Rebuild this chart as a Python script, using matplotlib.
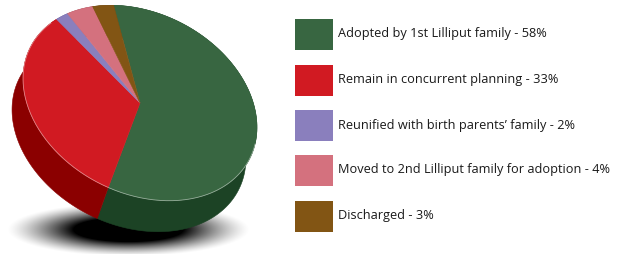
import numpy as np
import matplotlib
matplotlib.use("Agg")
import matplotlib.pyplot as plt
from matplotlib.patches import Polygon, Rectangle

labels = [
    "Adopted by 1st Lilliput family - 58%",
    "Remain in concurrent planning - 33%",
    "Reunified with birth parents\u2019 family - 2%",
    "Moved to 2nd Lilliput family for adoption - 4%",
    "Discharged - 3%",
]
values = [58, 33, 2, 4, 3]
top_colors = ["#386641", "#d11a22", "#8a7fbd", "#d4717e", "#825514"]
side_colors = ["#1c4325", "#8b0000", "#5a5090", "#9a4a55", "#55370c"]

# pie geometry in pixel coords (y down)
CX, CY = 140, 103
A, B = 123, 90
TILT = np.deg2rad(27)
DEPTH = (-11, 31)
START = 236.5  # degrees, green wedge starts at top


def ell(t):
    x = CX + A * np.cos(TILT) * np.cos(t) - B * np.sin(TILT) * np.sin(t)
    y = CY + A * np.sin(TILT) * np.cos(t) + B * np.cos(TILT) * np.sin(t)
    return x, y


fig = plt.figure(figsize=(6.2, 2.54), dpi=100)
ax = fig.add_axes([0, 0, 1, 1])
ax.set_xlim(0, 620)
ax.set_ylim(254, 0)
ax.axis("off")

# soft shadow under the pie
gx, gy = np.meshgrid(np.arange(0, 300), np.arange(190, 254))
r = np.sqrt(((gx - 128) / 122.0) ** 2 + ((gy - 229) / 27.0) ** 2)
alpha = np.clip((1 - r) / 0.55, 0, 1) ** 1.4
img = np.zeros(gx.shape + (4,))
img[..., 3] = alpha
ax.imshow(img, extent=(0, 300, 254, 190), origin="upper", zorder=1, aspect="auto")

total = sum(values)
bounds = [START]
for v in values:
    bounds.append(bounds[-1] + 360.0 * v / total)

# side band
for i in range(len(values)):
    t = np.deg2rad(np.linspace(bounds[i], bounds[i + 1], 120))
    x, y = ell(t)
    pts = np.column_stack([np.r_[x, x[::-1] + DEPTH[0]], np.r_[y, y[::-1] + DEPTH[1]]])
    ax.add_patch(Polygon(pts, closed=True, fc=side_colors[i], ec=side_colors[i], lw=0.4, zorder=2))

# top face
for i in range(len(values)):
    t = np.deg2rad(np.linspace(bounds[i], bounds[i + 1], 120))
    x, y = ell(t)
    pts = np.column_stack([np.r_[CX, x], np.r_[CY, y]])
    ax.add_patch(Polygon(pts, closed=True, fc=top_colors[i], ec=top_colors[i], lw=0.4, zorder=3))

# light rim on the front edge
t = np.deg2rad(np.linspace(-10, 200, 200))
x, y = ell(t)
ax.plot(x, y, color="white", lw=0.6, alpha=0.45, zorder=4)

# legend
row_y = [34, 80, 125, 170, 216]
for lab, col, yy in zip(labels, top_colors, row_y):
    ax.add_patch(Rectangle((295, yy - 15.5), 38, 31, fc=col, ec="none", zorder=3))
    ax.text(338, yy, lab, fontsize=9.2, family="Open Sans", color="#1a1a1a",
            va="center", ha="left", zorder=3)

fig.savefig("out.png", dpi=100)
